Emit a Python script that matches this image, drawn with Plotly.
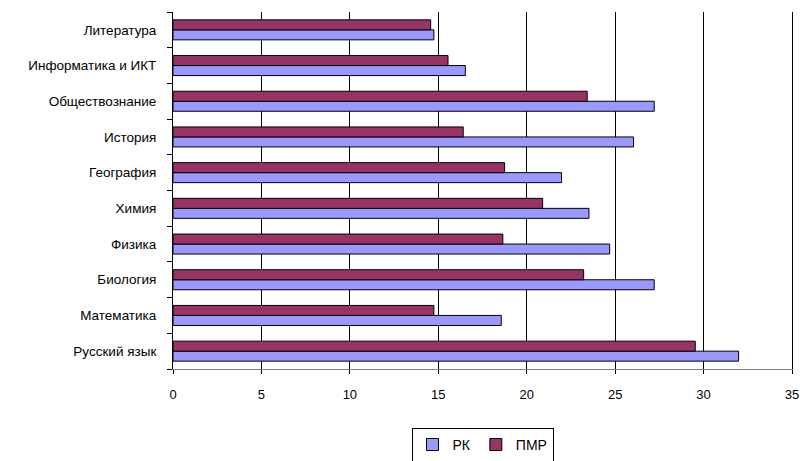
import plotly.graph_objects as go

categories = ["Русский язык", "Математика", "Биология", "Физика", "Химия",
              "География", "История", "Обществознание", "Информатика и ИКТ", "Литература"]
rk = [31.98, 18.56, 27.21, 24.69, 23.52, 21.97, 26.04, 27.21, 16.53, 14.75]
pmr = [29.53, 14.75, 23.22, 18.65, 20.9, 18.75, 16.41, 23.42, 15.55, 14.57]
x_ticks = [0, 5, 10, 15, 20, 25, 30, 35]

fig = go.Figure()
fig.add_trace(go.Bar(y=categories, x=rk, name="РК", orientation="h",
                     marker=dict(color="#9999FF", line=dict(color="black", width=1))))
fig.add_trace(go.Bar(y=categories, x=pmr, name="ПМР", orientation="h",
                     marker=dict(color="#993366", line=dict(color="black", width=1))))

fig.update_layout(
    width=800, height=490,
    margin=dict(l=173, r=8, t=12, b=121),
    paper_bgcolor="white", plot_bgcolor="white",
    barmode="group", bargap=0.44, bargroupgap=0,
    font=dict(family="Liberation Sans, Arial, sans-serif", size=13, color="black"),
    xaxis=dict(range=[0, 35], tickvals=x_ticks, showgrid=True, gridcolor="black",
               gridwidth=1, zeroline=False, showline=True, linecolor="#808080",
               ticks="outside", ticklen=4, tickcolor="black", tickfont=dict(size=13),
               ticklabelstandoff=9, automargin=False, fixedrange=True),
    yaxis=dict(categoryorder="array", categoryarray=categories, showline=True,
               mirror=True, linecolor="black", ticks="outside", tickson="boundaries",
               ticklen=5, tickcolor="black", showgrid=False, tickfont=dict(size=13.5),
               ticklabelstandoff=13, automargin=False, fixedrange=True),
    legend=dict(orientation="h", x=0.5, xanchor="center", y=-0.165, yanchor="top",
                bordercolor="black", borderwidth=1, font=dict(size=14),
                itemwidth=30, traceorder="normal"),
    showlegend=True,
)

fig.write_html(
    "out.html",
    config={"displayModeBar": False, "staticPlot": True},
    post_script="document.body.style.margin='0';"
                "document.body.style.overflow='hidden';"
                "document.documentElement.style.overflow='hidden';",
)
